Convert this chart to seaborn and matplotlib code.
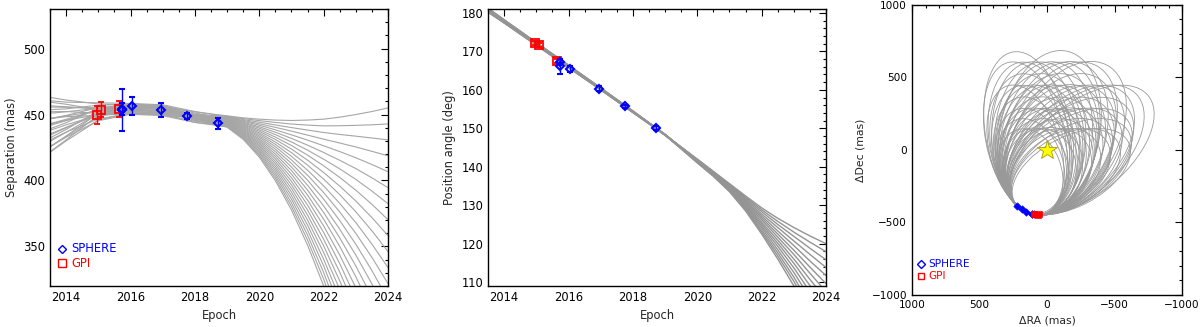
import numpy as np
import pandas as pd
import matplotlib
matplotlib.use("Agg")
import matplotlib.pyplot as plt
import seaborn as sns
from matplotlib.patches import Ellipse
from matplotlib.ticker import MultipleLocator

# orbit predictions: separation (mas)
SEP_EPOCHS = [2013.5, 2014, 2015, 2016, 2017, 2018, 2019, 2019.5, 2020, 2020.5, 2021, 2021.5, 2022,
              2022.5, 2023, 2023.5, 2024]
SEP_CURVES = [
    [463.0, 461.0, 458.0, 457.0, 456.0, 452.0, 449.0, 447.5, 446.5, 445.8, 445.5, 445.8, 446.5, 448.0, 450.0, 452.3, 455.0],
    [459.4, 457.8, 453.7, 453.0, 452.0, 449.8, 448.7, 446.9, 445.4, 444.0, 442.8, 442.0, 441.4, 441.5, 441.8, 442.2, 442.9],
    [460.5, 459.4, 458.9, 458.4, 457.4, 452.3, 448.3, 446.2, 444.2, 442.1, 440.1, 438.2, 436.4, 434.9, 433.6, 432.2, 430.8],
    [456.6, 455.9, 454.0, 453.9, 452.9, 449.8, 448.0, 445.5, 443.0, 440.3, 437.4, 434.4, 431.3, 428.4, 425.4, 422.1, 418.7],
    [455.7, 455.5, 455.2, 455.3, 454.3, 450.3, 447.6, 444.9, 441.9, 438.4, 434.6, 430.6, 426.3, 421.9, 417.2, 412.1, 406.6],
    [452.1, 452.3, 450.9, 451.3, 450.3, 448.1, 447.3, 444.2, 440.7, 436.6, 431.9, 426.8, 421.2, 415.3, 409.0, 402.0, 394.5],
    [453.7, 454.3, 457.1, 457.8, 456.8, 451.1, 446.9, 443.6, 439.6, 434.8, 429.2, 423.0, 416.1, 408.8, 400.8, 391.9, 382.4],
    [451.0, 452.1, 454.8, 455.7, 454.7, 449.8, 446.6, 442.9, 438.4, 432.9, 426.5, 419.2, 411.1, 402.3, 392.6, 381.9, 370.2],
    [446.9, 448.4, 449.4, 450.7, 449.7, 447.1, 446.3, 442.3, 437.3, 431.1, 423.8, 415.4, 406.0, 395.7, 384.4, 371.8, 358.1],
    [447.0, 449.0, 452.6, 454.1, 453.1, 448.6, 445.9, 441.6, 436.1, 429.2, 421.1, 411.6, 401.0, 389.2, 376.2, 361.8, 346.0],
    [446.9, 449.3, 455.3, 457.1, 456.1, 449.9, 445.6, 441.0, 435.0, 427.4, 418.3, 407.8, 395.9, 382.6, 368.0, 351.7, 333.9],
    [442.7, 445.6, 450.0, 452.1, 451.1, 447.1, 445.2, 440.3, 433.8, 425.6, 415.6, 404.0, 390.8, 376.1, 359.8, 341.6, 321.8],
    [443.1, 446.4, 453.7, 456.0, 455.0, 448.9, 444.9, 439.7, 432.7, 423.7, 412.9, 400.2, 385.8, 369.6, 351.6, 331.6, 309.7],
    [441.7, 445.4, 453.8, 456.5, 455.5, 448.9, 444.5, 439.0, 431.5, 421.9, 410.2, 396.4, 380.7, 363.0, 343.4, 321.5, 297.6],
    [438.0, 442.2, 449.5, 452.4, 451.4, 446.6, 444.2, 438.4, 430.4, 420.0, 407.5, 392.7, 375.7, 356.5, 335.1, 311.5, 285.5],
    [439.2, 443.8, 454.7, 457.9, 456.9, 449.2, 443.8, 437.7, 429.2, 418.2, 404.8, 388.9, 370.6, 350.0, 326.9, 301.4, 273.4],
    [435.3, 440.3, 449.9, 453.4, 452.4, 446.7, 443.5, 437.1, 428.1, 416.4, 402.0, 385.1, 365.5, 343.4, 318.7, 291.3, 261.3],
    [434.4, 439.9, 451.1, 454.8, 453.8, 447.2, 443.2, 436.4, 426.9, 414.5, 399.3, 381.3, 360.5, 336.9, 310.5, 281.3, 249.2],
    [430.7, 436.7, 446.7, 450.8, 449.8, 444.9, 442.8, 435.8, 425.8, 412.7, 396.6, 377.5, 355.4, 330.4, 302.3, 271.2, 237.1],
    [432.3, 438.7, 452.9, 457.2, 456.2, 447.9, 442.5, 435.1, 424.6, 410.8, 393.9, 373.7, 350.4, 323.8, 294.1, 261.2, 225.0],
    [429.7, 436.5, 450.6, 455.2, 454.2, 446.7, 442.1, 434.5, 423.5, 409.0, 391.2, 369.9, 345.3, 317.3, 285.9, 251.1, 212.8],
    [425.6, 432.8, 445.3, 450.2, 449.2, 444.0, 441.8, 433.8, 422.3, 407.2, 388.5, 366.1, 340.2, 310.7, 277.7, 241.0, 200.7],
    [425.7, 433.4, 448.5, 453.6, 452.6, 445.5, 441.4, 433.2, 421.2, 405.3, 385.8, 362.3, 335.2, 304.2, 269.5, 231.0, 188.6],
    [425.5, 433.7, 451.1, 456.6, 455.6, 446.7, 441.1, 432.5, 420.0, 403.5, 383.0, 358.5, 330.1, 297.7, 261.3, 220.9, 176.5],
    [421.4, 430.0, 445.8, 451.5, 450.5, 444.0, 440.7, 431.9, 418.9, 401.6, 380.3, 354.7, 325.1, 291.1, 253.1, 210.9, 164.4],
    [421.8, 430.8, 449.5, 455.5, 454.5, 445.8, 440.4, 431.2, 417.7, 399.8, 377.6, 350.9, 320.0, 284.6, 244.9, 200.8, 152.3],
]

# orbit predictions: position angle (deg)
PA_EPOCHS = [2013.5, 2014, 2015, 2016, 2017, 2018, 2019, 2020, 2020.5, 2021, 2021.5, 2022, 2022.5, 2023, 2023.5, 2024]
PA_CURVES = [
    [180.2, 177.4, 171.6, 165.8, 160.0, 154.1, 148.2, 142.0, 138.8, 135.6, 132.4, 129.3, 126.6, 124.2, 122.0, 120.0],
    [180.6, 177.7, 171.9, 166.0, 160.2, 154.3, 148.3, 141.9, 138.7, 135.4, 132.1, 128.8, 125.8, 123.0, 120.4, 117.9],
    [181.0, 178.1, 172.2, 166.3, 160.4, 154.4, 148.3, 141.8, 138.6, 135.3, 131.8, 128.3, 125.0, 121.9, 118.8, 115.8],
    [180.4, 177.6, 171.8, 166.1, 160.3, 154.4, 148.4, 141.8, 138.5, 135.1, 131.5, 127.7, 124.2, 120.7, 117.2, 113.8],
    [180.8, 177.9, 172.0, 166.2, 160.3, 154.3, 148.2, 141.7, 138.4, 134.9, 131.2, 127.2, 123.3, 119.5, 115.5, 111.7],
    [181.2, 178.2, 172.3, 166.4, 160.5, 154.5, 148.4, 141.6, 138.3, 134.8, 130.9, 126.7, 122.5, 118.3, 113.9, 109.6],
    [180.2, 177.4, 171.6, 165.8, 160.0, 154.1, 148.2, 141.5, 138.2, 134.6, 130.6, 126.2, 121.7, 117.2, 112.3, 107.5],
    [180.6, 177.7, 171.9, 166.0, 160.2, 154.3, 148.3, 141.5, 138.1, 134.5, 130.3, 125.6, 120.9, 116.0, 110.7, 105.5],
    [181.0, 178.1, 172.2, 166.3, 160.4, 154.4, 148.3, 141.4, 138.0, 134.3, 130.0, 125.1, 120.1, 114.9, 109.1, 103.4],
    [180.4, 177.6, 171.8, 166.1, 160.3, 154.4, 148.4, 141.3, 137.9, 134.1, 129.7, 124.6, 119.3, 113.7, 107.5, 101.3],
    [180.8, 177.9, 172.0, 166.2, 160.3, 154.3, 148.2, 141.2, 137.8, 134.0, 129.4, 124.1, 118.4, 112.5, 105.9, 99.2],
    [181.2, 178.2, 172.3, 166.4, 160.5, 154.5, 148.4, 141.2, 137.7, 133.8, 129.1, 123.5, 117.6, 111.3, 104.2, 97.2],
    [180.2, 177.4, 171.6, 165.8, 160.0, 154.1, 148.2, 141.1, 137.6, 133.7, 128.8, 123.0, 116.8, 110.2, 102.6, 95.1],
    [180.6, 177.7, 171.9, 166.0, 160.2, 154.3, 148.3, 141.0, 137.5, 133.5, 128.5, 122.5, 116.0, 109.0, 101.0, 93.0],
]

# projected orbits on the sky: centre (mas), full axes (mas), rotation (deg)
ORBIT_CX = [120, 50, -20, -100, -180, 85, 15, -60, -140,
            120, 50, -20, -100, -180,
            120, 50, -20, -100, -180, 85, 15, -60, -140,
            120, 50, -20, -100, -180,
            120, 50, -20, -100, -180, -260, 160, 85, 15, -60, -140, -220,
            120, 50, -20, -100,
            120, 50, -20, -100, 160, 85, 15, -60, -140,
            -20, 150]
ORBIT_CY = [-150, -150, -150, -150, -150, -150, -150, -150, -150,
            -115, -115, -115, -115, -115,
            -80, -80, -80, -80, -80, -80, -80, -80, -80,
            -40, -40, -40, -40, -40,
            0, 0, 0, 0, 0, 0, 0, 0, 0, 0, 0, 0,
            40, 40, 40, 40,
            80, 80, 80, 80, 80, 80, 80, 80, 80,
            120, 120]
ORBIT_W = [614, 594, 673, 802, 939, 604, 634, 738, 871,
           680, 663, 725, 843, 975,
           747, 733, 778, 885, 1011, 740, 756, 832, 948,
           824, 813, 850, 943, 1061,
           902, 893, 922, 1002, 1111, 1234, 923, 898, 908, 962, 1057, 1173,
           981, 973, 998, 1068,
           1060, 1053, 1074, 1135, 1077, 1057, 1064, 1105, 1181,
           1151, 1130]
ORBIT_H = [449, 532, 532, 508, 488, 491, 532, 520, 498,
           479, 556, 568, 550, 531,
           509, 580, 605, 593, 574, 545, 593, 599, 584,
           538, 605, 635, 632, 617,
           567, 629, 665, 670, 659, 644, 526, 598, 647, 668, 665, 652,
           593, 652, 689, 700,
           619, 675, 713, 731, 582, 647, 694, 722, 730,
           734, 610]
ORBIT_ANGLE = [-113, -80, 141, 150, 155, -97, -60, 146, 153,
               -109, -82, 132, 144, 151,
               -105, -85, -57, 139, 147, -95, -71, -49, 143,
               -103, -86, -63, 134, 143,
               -101, -87, -69, -52, 138, 144, -107, -94, -78, -61, 133, 141,
               -100, -88, -72, -57,
               -99, -88, -74, -61, -104, -94, -81, -68, -56,
               -76, -101]

# astrometry
SPHERE_EPOCH = [2015.74, 2015.75, 2016.05, 2016.96, 2017.76, 2018.73]
SPHERE_SEP = [453.5, 454.0, 456.5, 453.5, 448.8, 443.3]
SPHERE_SEP_ERR = [16, 4.5, 7, 5.5, 2.5, 4]
SPHERE_PA = [166.1, 167.3, 165.5, 160.3, 155.7, 150.1]
SPHERE_PA_ERR = [1.9, 0.6, 0.8, 0.6, 0.4, 0.5]
SPHERE_RA = [109, 100, 114, 153, 185, 221]
SPHERE_DEC = [-440, -443, -442, -427, -409, -384]

GPI_EPOCH = [2014.95, 2015.08, 2015.63]
GPI_SEP = [449.5, 453.8, 454.5]
GPI_SEP_ERR = [7, 6, 6]
GPI_PA = [172.2, 171.7, 167.5]
GPI_PA_ERR = [0.5, 0.5, 0.5]
GPI_RA = [61, 66, 98]
GPI_DEC = [-445, -449, -444]

FS = 8.3


def curves_frame(epochs, curves):
    rows = []
    for i, c in enumerate(curves):
        for t, v in zip(epochs, c):
            rows.append({"curve": i, "epoch": t, "value": v})
    return pd.DataFrame(rows)


def style_axis(ax, xmaj, xmin, ymaj, ymin, labelsize=FS):
    ax.xaxis.set_major_locator(MultipleLocator(xmaj))
    ax.xaxis.set_minor_locator(MultipleLocator(xmin))
    ax.yaxis.set_major_locator(MultipleLocator(ymaj))
    ax.yaxis.set_minor_locator(MultipleLocator(ymin))
    ax.tick_params(which="both", direction="in", top=True, right=True, labelsize=labelsize,
                   width=0.8, color="black", labelcolor="black")
    ax.tick_params(which="major", length=5)
    ax.tick_params(which="minor", length=2.5)
    for s in ax.spines.values():
        s.set_visible(True)
        s.set_linewidth(1.0)
        s.set_color("black")


def legend(ax, x, y, dy, size):
    ax.plot([x], [y], marker="D", ms=size * 0.5, mfc="none", mec="blue", mew=1,
            transform=ax.transAxes, clip_on=False)
    ax.text(x + 0.027, y, "SPHERE", color="blue", fontsize=size, va="center", transform=ax.transAxes)
    ax.plot([x], [y - dy], marker="s", ms=size * 0.62, mfc="none", mec="red", mew=1,
            transform=ax.transAxes, clip_on=False)
    ax.text(x + 0.027, y - dy, "GPI", color="red", fontsize=size, va="center", transform=ax.transAxes)


def plot_astrometry(ax, gpi_y, gpi_err, sph_y, sph_err):
    ax.errorbar(GPI_EPOCH, gpi_y, yerr=gpi_err, fmt="s", ms=6, mfc="none", mec="red", ecolor="red",
                mew=1.3, elinewidth=1, capsize=2.5, zorder=5)
    ax.errorbar(SPHERE_EPOCH, sph_y, yerr=sph_err, fmt="D", ms=4.5, mfc="none", mec="blue",
                ecolor="blue", mew=1.5, elinewidth=1, capsize=2.5, zorder=6)


def main():
    sns.set_style("white")
    plt.rcParams["font.family"] = ["DejaVu Sans"]
    fig = plt.figure(figsize=(12, 3.27), dpi=100)
    ax1 = fig.add_axes([0.0417, 0.1254, 0.2817, 0.847])
    ax2 = fig.add_axes([0.4067, 0.1254, 0.2817, 0.847])
    ax3 = fig.add_axes([0.76, 0.0979, 0.225, 0.887])

    # separation vs epoch
    sns.lineplot(data=curves_frame(SEP_EPOCHS, SEP_CURVES), x="epoch", y="value", units="curve",
                 estimator=None, color="0.65", lw=0.8, ax=ax1)
    plot_astrometry(ax1, GPI_SEP, GPI_SEP_ERR, SPHERE_SEP, SPHERE_SEP_ERR)
    ax1.set_xlim(2013.5, 2024)
    ax1.set_ylim(320, 530)
    ax1.set_xlabel("Epoch", fontsize=FS)
    ax1.set_ylabel("Separation (mas)", fontsize=FS)
    style_axis(ax1, 2, 0.5, 50, 10)
    legend(ax1, 0.036, 0.134, 0.051, FS)

    # position angle vs epoch
    sns.lineplot(data=curves_frame(PA_EPOCHS, PA_CURVES), x="epoch", y="value", units="curve",
                 estimator=None, color="0.58", lw=1.0, ax=ax2)
    plot_astrometry(ax2, GPI_PA, GPI_PA_ERR, SPHERE_PA, SPHERE_PA_ERR)
    ax2.set_xlim(2013.5, 2024)
    ax2.set_ylim(109, 181)
    ax2.set_xlabel("Epoch", fontsize=FS)
    ax2.set_ylabel("Position angle (deg)", fontsize=FS)
    style_axis(ax2, 2, 0.5, 10, 2)

    # orbits on the sky
    for cx, cy, w, h, a in zip(ORBIT_CX, ORBIT_CY, ORBIT_W, ORBIT_H, ORBIT_ANGLE):
        ax3.add_patch(Ellipse((cx, cy), w, h, angle=a, fill=False, ec="0.6", lw=0.6))
    sns.scatterplot(x=SPHERE_RA, y=SPHERE_DEC, marker="D", s=14, color="blue", edgecolor="blue",
                    linewidth=0.5, ax=ax3, zorder=5)
    sns.scatterplot(x=GPI_RA, y=GPI_DEC, marker="s", s=20, color="red", edgecolor="red",
                    linewidth=0.5, ax=ax3, zorder=6)
    ax3.plot([0], [0], marker="*", ms=15, mfc="yellow", mec="#a89a00", mew=0.6, zorder=7)
    ax3.set_xlim(1000, -1000)
    ax3.set_ylim(-1000, 1000)
    ax3.set_xlabel("\u0394RA (mas)", fontsize=7.8)
    ax3.set_ylabel("\u0394Dec (mas)", fontsize=7.8)
    style_axis(ax3, 500, 100, 500, 100, labelsize=7.6)
    legend(ax3, 0.033, 0.107, 0.041, 7.6)

    fig.savefig("out.png", dpi=100)
    plt.close(fig)


if __name__ == "__main__":
    main()
